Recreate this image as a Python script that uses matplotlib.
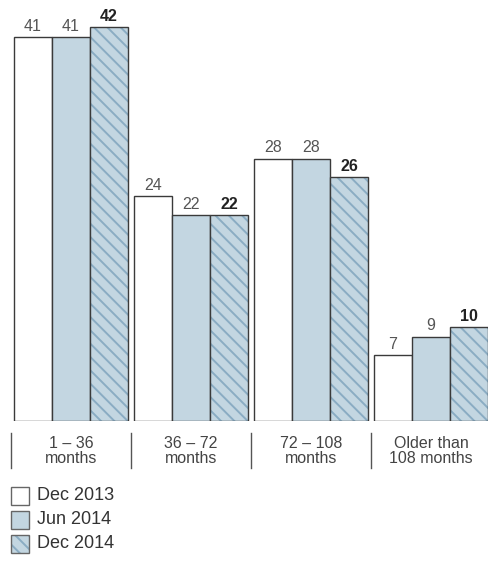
import matplotlib.pyplot as plt
import numpy as np

# sizes below are given for 100 dpi; the figure is rendered at 80 dpi so the
# hatch cell (one inch) comes out a little tighter
DPI = 80
S = 100 / DPI

plt.rcParams['font.family'] = ['Liberation Sans', 'DejaVu Sans']
plt.rcParams['hatch.linewidth'] = 1.4 * S

groups = ['1 – 36\nmonths', '36 – 72\nmonths', '72 – 108\nmonths', 'Older than\n108 months']
series = ['Dec 2013', 'Jun 2014', 'Dec 2014']
dec_2013 = [41, 24, 28, 7]
jun_2014 = [41, 22, 28, 9]
dec_2014 = [42, 22, 26, 10]

W, H = 488, 563
fig = plt.figure(figsize=(W / DPI, H / DPI), dpi=DPI)
# plotting area: baseline at 421 px from the top, spans full width
ax = fig.add_axes([0, 142 / H, 1, 421 / H])
ax.set_xlim(-71 / 120, (W - 71) / 120)
ax.set_ylim(0, 421 / 9.37)
ax.axis('off')

x = np.arange(len(groups))
bw = 38 / 120
edge = '#3a3a3a'
blue = '#c3d6e1'
hatch_col = '#8aacc3'
hatch = '\\\\'

fills = ['white', blue, blue]
hatches = [None, None, hatch]
values = [dec_2013, jun_2014, dec_2014]

for k, vals in enumerate(values):
    pos = x + (k - 1) * bw
    if hatches[k]:
        # hatch layer takes its line colour from the edge colour
        ax.bar(pos, vals, width=bw, facecolor=fills[k], hatch=hatches[k],
               edgecolor=hatch_col, linewidth=0)
        ax.bar(pos, vals, width=bw, facecolor='none', edgecolor=edge, linewidth=1.0 * S)
    else:
        ax.bar(pos, vals, width=bw, facecolor=fills[k], edgecolor=edge, linewidth=1.0 * S)
    for xi, v in zip(pos, vals):
        bold = k == 2
        ax.text(xi, v + 0.35, str(v), ha='center', va='bottom',
                fontsize=11.5 * S, color='#222222' if bold else '#555555',
                fontweight='bold' if bold else 'normal')

# group separators and category labels below the bars
for i, g in enumerate(groups):
    ax.plot([i - 0.5, i - 0.5], [-1.28, -5.0], color='#555555', lw=1.0 * S, clip_on=False)
    ax.text(i, -3.2, g, ha='center', va='center', fontsize=11.5 * S, color='#444444',
            linespacing=0.95)

# legend in the lower left
for k, s in enumerate(series):
    y0 = H - 505 - 24 * k
    box = dict(transform=fig.transFigure)
    if hatches[k]:
        fig.add_artist(plt.Rectangle((11 / W, y0 / H), 18 / W, 18 / H, **box,
                                     facecolor=fills[k], hatch=hatches[k],
                                     edgecolor=hatch_col, linewidth=0))
        fig.add_artist(plt.Rectangle((11 / W, y0 / H), 18 / W, 18 / H, **box,
                                     facecolor='none', edgecolor='#666666', linewidth=1.0 * S))
    else:
        fig.add_artist(plt.Rectangle((11 / W, y0 / H), 18 / W, 18 / H, **box,
                                     facecolor=fills[k], edgecolor='#666666', linewidth=1.0 * S))
    fig.text(37 / W, (y0 + 9) / H, s, ha='left', va='center', fontsize=13 * S,
             color='#333333')

fig.savefig('out.png', dpi=DPI)
